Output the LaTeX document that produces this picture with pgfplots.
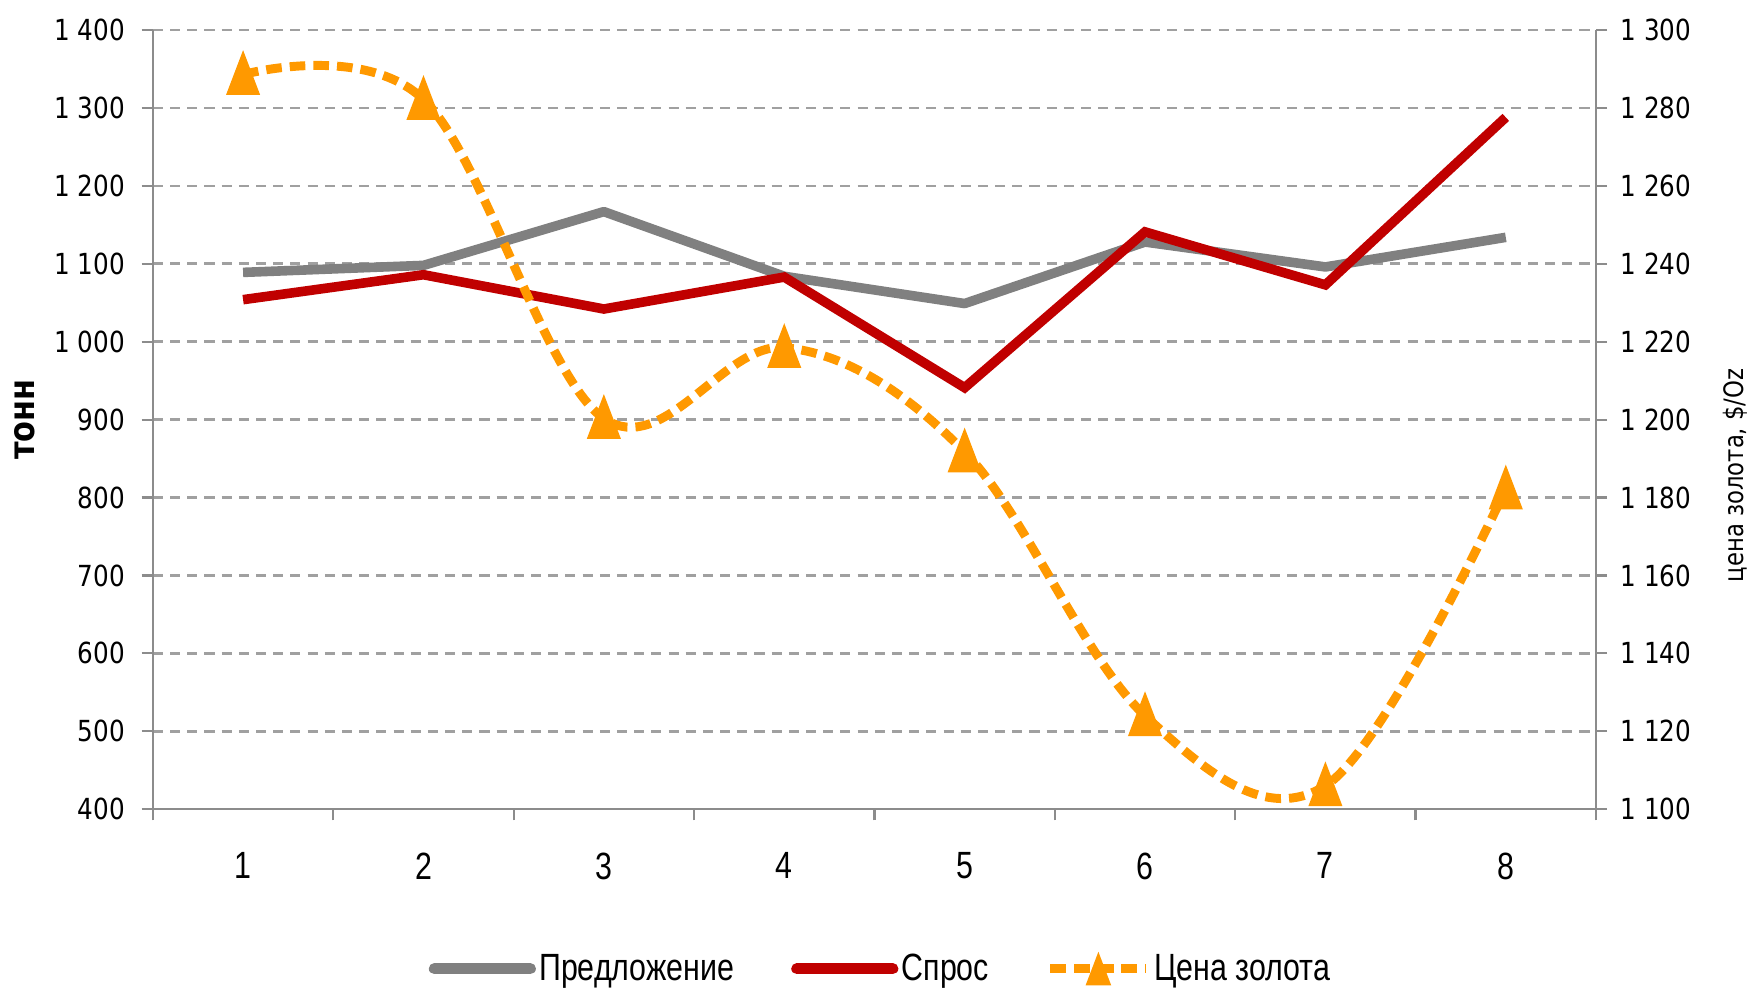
\documentclass[border=0pt]{standalone}
\usepackage{pgfplots}
\pgfplotsset{compat=1.18}
\usepackage{fontspec}
\setmainfont{DejaVu Sans}[FakeStretch=0.85]
\newfontfamily\condfont{Liberation Sans}[FakeStretch=0.8]
\definecolor{sgray}{HTML}{808080}
\definecolor{sred}{HTML}{C00000}
\definecolor{sorange}{HTML}{FF9900}
\definecolor{axgray}{HTML}{8C8C8C}
\definecolor{gridgray}{HTML}{A0A0A0}
\pgfplotsset{
  /pgf/number format/1000 sep={\ },
  /pgf/number format/assume math mode=true,
  every axis/.append style={
    scale only axis, width=646.5pt, height=349pt,
    xmin=0.5, xmax=8.5,
    tick align=outside, major tick length=5pt,
    axis line style={axgray, line width=1pt},
    tick style={axgray, line width=1pt},
    tick label style={font=\fontsize{13}{15}\selectfont},
  },
}
\begin{document}
\begin{tikzpicture}
\begin{axis}[
  ymin=400, ymax=1400,
  axis x line*=bottom, axis y line*=left,
  xtick={0.5,1.5,...,8.5},
  x tick label as interval,
  xticklabels={1,2,3,4,5,6,7,8},
  xticklabel style={font=\condfont\fontsize{17}{19}\selectfont, yshift=-11pt},
  ytick={400,500,...,1400},
  yticklabel style={xshift=-4pt},
  ymajorgrids,
  grid style={gridgray, line width=1.2pt, dash pattern=on 4.5pt off 3.2pt},
  ylabel={\bfseries тонн},
  ylabel style={at={(axis description cs:0,0.5)}, anchor=center, yshift=57.5pt, font=\fontsize{16}{18}\selectfont},
]
\coordinate (sw) at (rel axis cs:0,0);
\coordinate (ne) at (rel axis cs:1,1);
\addplot[sgray, line width=4.3pt, line join=round] coordinates {
  (1,1089) (2,1098) (3,1167) (4,1084) (5,1049) (6,1128) (7,1096) (8,1134)};
\addplot[sred, line width=4.3pt, line join=miter] coordinates {
  (1,1054) (2,1086) (3,1042) (4,1083) (5,941) (6,1141) (7,1073) (8,1288)};
\end{axis}
\begin{axis}[
  ymin=1100, ymax=1300,
  axis x line=none, axis y line*=right,
  ytick={1100,1120,...,1300},
  yticklabel style={xshift=2.5pt},
  ylabel={цена золота, \$/Oz},
  ylabel style={at={(axis description cs:1,0.5)}, anchor=center, yshift=-62.5pt, xshift=-25pt, font=\fontsize{12}{14}\selectfont},
  legend style={at={(axis description cs:0.5,0)}, anchor=center, yshift=-71.5pt, xshift=3pt,
    draw=none, fill=none, font=\condfont\fontsize{17}{19}\selectfont,
    nodes={inner xsep=1.5pt}},
  legend columns=3,
  legend cell align=left,
  /tikz/every odd column/.append style={column sep=0pt},
  /tikz/every even column/.append style={column sep=24pt},
  legend image code/.code={\draw[mark repeat=2,mark phase=2,#1] plot coordinates {(2.5pt,0pt) (24pt,0pt) (45.5pt,0pt)};},
  legend image post style={mark size=5pt},
]
\addlegendimage{sgray, line width=5pt, line cap=round}
\addlegendentry{Предложение}
\addlegendimage{sred, line width=5pt, line cap=round}
\addlegendentry{Спрос}
\addplot[sorange, line width=4pt, dash pattern=on 7pt off 3.6pt, smooth, tension=0.6,
  mark=triangle*, mark size=8.3pt,
  mark options={solid, xscale=0.66, yshift=-3pt, fill=sorange, draw=none}] coordinates {
  (1,1288.6) (2,1282.2) (3,1200.3) (4,1218.5) (5,1191.7) (6,1124) (7,1106) (8,1182.2)};
\addlegendentry{Цена золота}
\end{axis}
\pgfresetboundingbox
\path ([shift={(-68.5pt,-80.5pt)}]sw) rectangle ([shift={(69pt,13.5pt)}]ne);
\end{tikzpicture}
\end{document}
